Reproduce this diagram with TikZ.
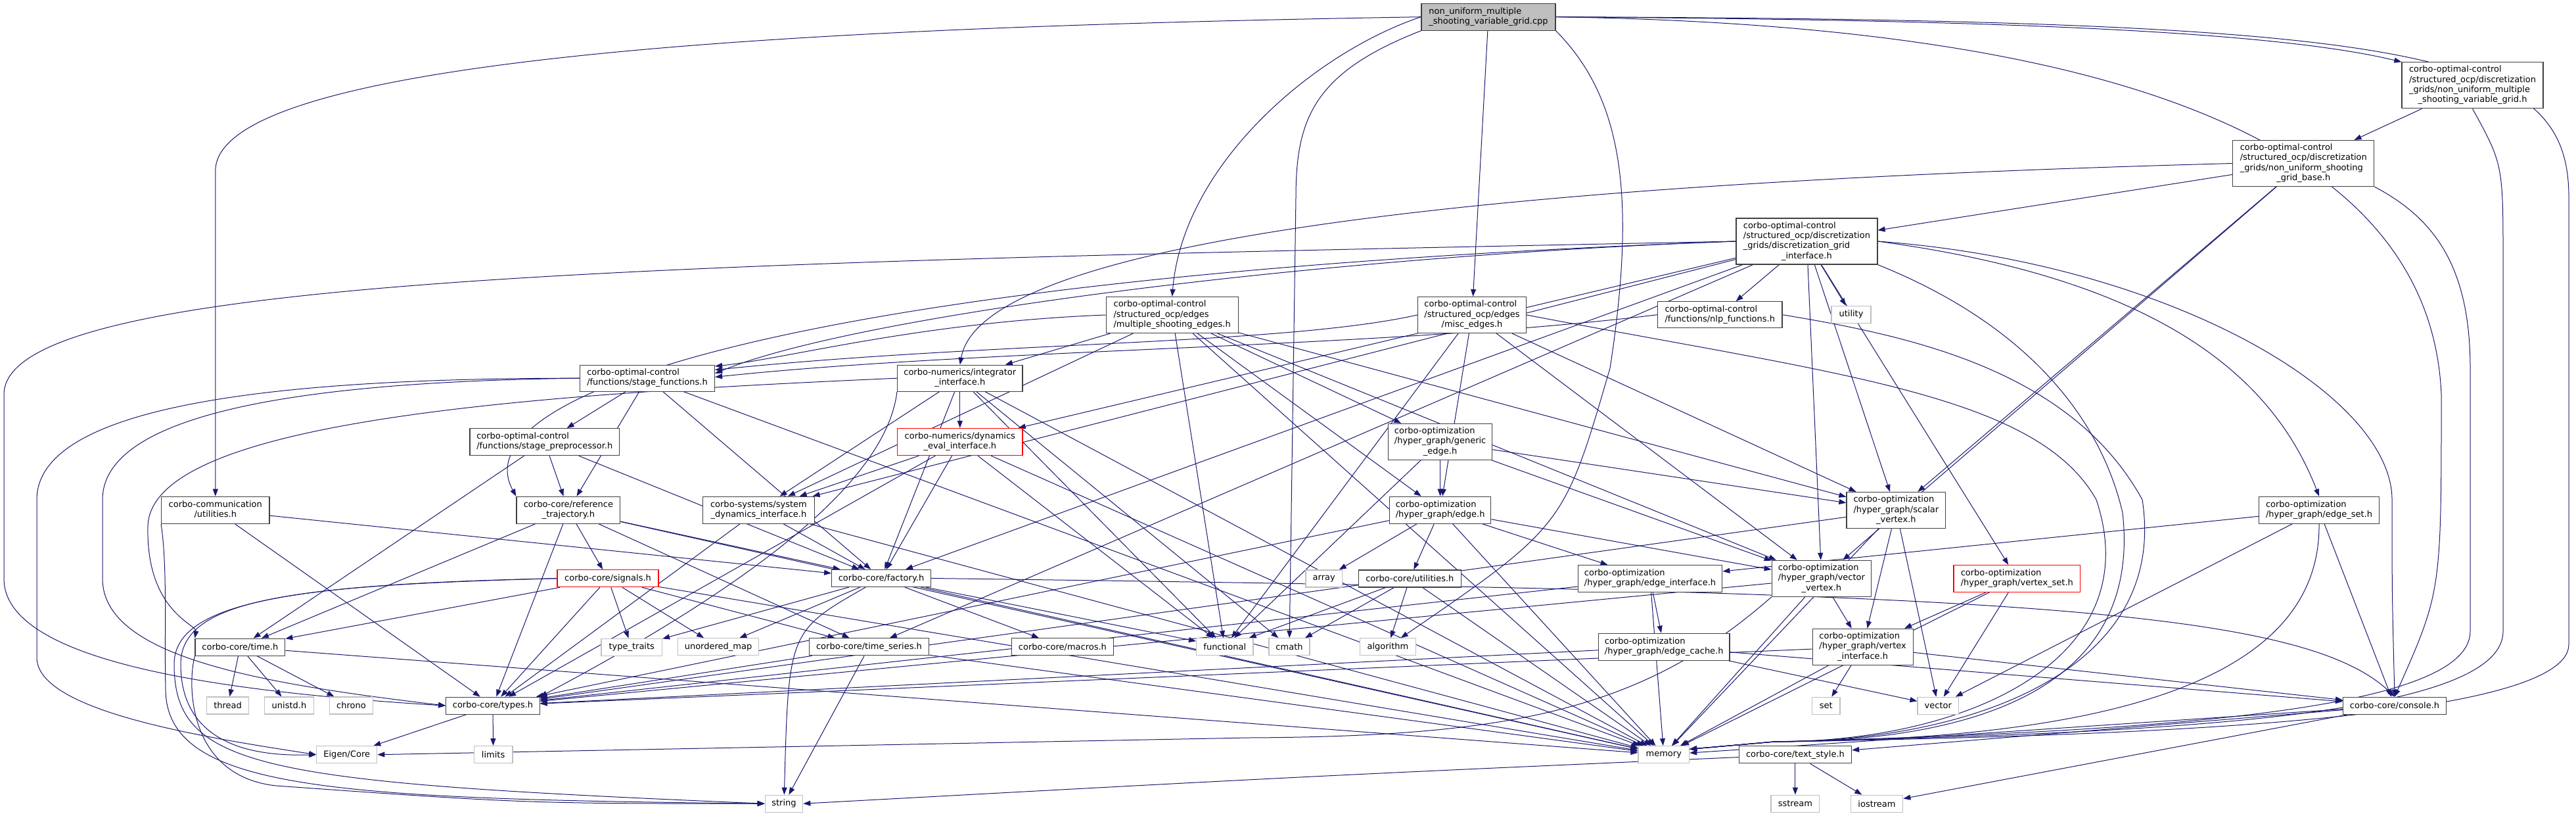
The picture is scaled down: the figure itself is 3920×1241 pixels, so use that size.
\documentclass[tikz,border=0pt]{standalone}
\usepackage{fontspec}
\setmainfont{DejaVu Sans}
\usetikzlibrary{arrows.meta}
\definecolor{ec}{HTML}{191970}
\definecolor{lg}{HTML}{BFBFBF}
\definecolor{bd}{HTML}{404040}
\newcommand\fs{\fontsize{13}{15.3}\selectfont}
\newcommand\ml[2]{\begin{tabular}{@{}l@{}}#1\\\multicolumn{1}{@{}c@{}}{#2}\end{tabular}}
\pgfdeclarelayer{back}
\pgfdeclarelayer{bg}
\pgfsetlayers{back,bg,main}
\tikzset{
  nb/.style={draw=bd, fill=white, line width=1.2pt, inner sep=0pt, font=\fs, text=black},
  lf/.style={draw=lg, fill=white, line width=1.2pt, inner sep=0pt, font=\fs, text=black},
  rt/.style={nb, fill=lg},
  rd/.style={nb, draw=red},
  ed/.style={draw=ec, line width=1pt, -{Triangle[length=11pt,width=8pt]}},
}
\begin{document}
\begin{tikzpicture}[x=1pt,y=-1pt]
\begin{pgfonlayer}{back}
\fill[white] (0,0) rectangle (3920,1241);
\end{pgfonlayer}
\useasboundingbox (0,0) rectangle (3920,1241);
% nodes
\node[rt, minimum width=204pt, minimum height=41pt] (root) at (2265,25.7) {\ml{non\_uniform\_multiple}{\_shooting\_variable\_grid.cpp}};
\node[nb, minimum width=215pt, minimum height=70pt] (nums) at (3762.5,129.8) {\ml{corbo-optimal-control\\/structured\_ocp/discretization\\\_grids/non\_uniform\_multiple}{\_shooting\_variable\_grid.h}};
\node[nb, minimum width=215pt, minimum height=70pt] (gbase) at (3505.3,248.5) {\ml{corbo-optimal-control\\/structured\_ocp/discretization\\\_grids/non\_uniform\_shooting}{\_grid\_base.h}};
\node[nb, minimum width=215pt, minimum height=70pt] (dgi) at (2749.4,367) {\ml{corbo-optimal-control\\/structured\_ocp/discretization\\\_grids/discretization\_grid}{\_interface.h}};
\node[nb, minimum width=201pt, minimum height=55pt] (mse) at (1783.7,479) {\ml{corbo-optimal-control\\/structured\_ocp/edges}{/multiple\_shooting\_edges.h}};
\node[nb, minimum width=165pt, minimum height=55pt] (misc) at (2240,479) {\ml{corbo-optimal-control\\/structured\_ocp/edges}{/misc\_edges.h}};
\node[nb, minimum width=189.5pt, minimum height=40pt] (nlp) at (2617.25,478.7) {\ml{corbo-optimal-control}{/functions/nlp\_functions.h}};
\node[lf, minimum width=60pt, minimum height=26pt] (utility) at (2817,478.3) {utility};
\node[nb, minimum width=205pt, minimum height=40pt] (sfun) at (985,575.2) {\ml{corbo-optimal-control}{/functions/stage\_functions.h}};
\node[nb, minimum width=190.4pt, minimum height=40pt] (integ) at (1460.8,575.2) {\ml{corbo-numerics/integrator}{\_interface.h}};
\node[nb, minimum width=227.5pt, minimum height=41pt] (sprep) at (828.75,672.2) {\ml{corbo-optimal-control}{/functions/stage\_preprocessor.h}};
\node[rd, minimum width=190.4pt, minimum height=41pt] (dyn) at (1460.8,672) {\ml{corbo-numerics/dynamics}{\_eval\_interface.h}};
\node[nb, minimum width=158pt, minimum height=55pt] (gedge) at (2191.6,671.8) {\ml{corbo-optimization\\/hyper\_graph/generic}{\_edge.h}};
\node[nb, minimum width=164.4pt, minimum height=41pt] (comm) at (327.8,775.8) {\ml{corbo-communication}{/utilities.h}};
\node[nb, minimum width=157.7pt, minimum height=41pt] (reftraj) at (864.9,775.8) {\ml{corbo-core/reference}{\_trajectory.h}};
\node[nb, minimum width=170pt, minimum height=41pt] (sysdyn) at (1154.4,775.8) {\ml{corbo-systems/system}{\_dynamics\_interface.h}};
\node[nb, minimum width=154.4pt, minimum height=41pt] (edge) at (2191.6,775.8) {\ml{corbo-optimization}{/hyper\_graph/edge.h}};
\node[nb, minimum width=150.6pt, minimum height=55pt] (scalar) at (2885.3,776) {\ml{corbo-optimization\\/hyper\_graph/scalar}{\_vertex.h}};
\node[nb, minimum width=183pt, minimum height=41pt] (eset) at (3529,775.8) {\ml{corbo-optimization}{/hyper\_graph/edge\_set.h}};
\node[rd, minimum width=154pt, minimum height=26pt] (signals) at (925,879.7) {corbo-core/signals.h};
\node[nb, minimum width=150.6pt, minimum height=26pt] (factory) at (1341,879.5) {corbo-core/factory.h};
\node[lf, minimum width=55.6pt, minimum height=26pt] (array) at (2014.7,880) {array};
\node[nb, minimum width=155.6pt, minimum height=26pt] (cutil) at (2145.3,880) {corbo-core/utilities.h};
\node[nb, minimum width=219.4pt, minimum height=41pt] (eiface) at (2511,880.2) {\ml{corbo-optimization}{/hyper\_graph/edge\_interface.h}};
\node[nb, minimum width=151.25pt, minimum height=55pt] (vvertex) at (2771.9,879.8) {\ml{corbo-optimization\\/hyper\_graph/vector}{\_vertex.h}};
\node[rd, minimum width=192.5pt, minimum height=41pt] (vset) at (3069.3,880) {\ml{corbo-optimization}{/hyper\_graph/vertex\_set.h}};
\node[nb, minimum width=136.75pt, minimum height=26pt] (time) at (365.4,984.2) {corbo-core/time.h};
\node[lf, minimum width=92.5pt, minimum height=26pt] (ttraits) at (961.25,984.2) {type\_traits};
\node[lf, minimum width=123.75pt, minimum height=26pt] (umap) at (1093,983.8) {unordered\_map};
\node[nb, minimum width=182.5pt, minimum height=26pt] (tseries) at (1322.5,983.8) {corbo-core/time\_series.h};
\node[nb, minimum width=155pt, minimum height=26pt] (macros) at (1616.9,983.8) {corbo-core/macros.h};
\node[lf, minimum width=86.25pt, minimum height=26pt] (functional) at (1863.75,983.8) {functional};
\node[lf, minimum width=62pt, minimum height=26pt] (cmath) at (1962,983.8) {cmath};
\node[lf, minimum width=85pt, minimum height=26pt] (algorithm) at (2111.9,983.8) {algorithm};
\node[nb, minimum width=199.4pt, minimum height=41pt] (ecache) at (2532.2,983.8) {\ml{corbo-optimization}{/hyper\_graph/edge\_cache.h}};
\node[nb, minimum width=153pt, minimum height=55pt] (viface) at (2834.6,983.8) {\ml{corbo-optimization\\/hyper\_graph/vertex}{\_interface.h}};
\node[lf, minimum width=64.4pt, minimum height=26pt] (thread) at (346.6,1073) {thread};
\node[lf, minimum width=75pt, minimum height=26pt] (unistd) at (440,1073) {unistd.h};
\node[lf, minimum width=66pt, minimum height=26pt] (chrono) at (534.4,1073) {chrono};
\node[nb, minimum width=142.5pt, minimum height=26pt] (types) at (750,1073.2) {corbo-core/types.h};
\node[lf, minimum width=42.5pt, minimum height=26pt] (set) at (2778.75,1073.2) {set};
\node[lf, minimum width=62.6pt, minimum height=26pt] (vector) at (2949.3,1073.2) {vector};
\node[nb, minimum width=157pt, minimum height=26pt] (console) at (3644,1073.2) {corbo-core/console.h};
\node[lf, minimum width=92pt, minimum height=26pt] (eigen) at (527.8,1147.7) {Eigen/Core};
\node[lf, minimum width=58.75pt, minimum height=26pt] (limits) at (750.6,1147.7) {limits};
\node[lf, minimum width=77.5pt, minimum height=26pt] (memory) at (2531.8,1147.7) {memory};
\node[nb, minimum width=171.25pt, minimum height=26pt] (textstyle) at (2731.9,1147.8) {corbo-core/text\_style.h};
\node[lf, minimum width=57.5pt, minimum height=26pt] (string) at (1193,1222.2) {string};
\node[lf, minimum width=73.75pt, minimum height=26pt] (sstream) at (2731.9,1222.2) {sstream};
\node[lf, minimum width=79.4pt, minimum height=26pt] (iostream) at (2856,1222.2) {iostream};
% edges
\begin{pgfonlayer}{bg}
% root
\draw[ed] (root.east) .. controls (3000,30) and (3450,45) .. (nums.north west);
\draw[ed] (root.east) .. controls (3300,40) and (3700,250) .. (3715,600) .. controls (3715,900) .. (console.north);
\draw[ed] (root.east) .. controls (3700,30) and (3909,80) .. (3909,300) -- (3909,980) .. controls (3909,1100) and (3200,1120) .. (2700,1128) -- (memory.12);
\draw[ed] (root.west) .. controls (1300,40) and (327.8,80) .. (327.8,260) -- (comm.north);
\draw[ed] (root.west) .. controls (2000,80) and (1800,250) .. (mse.north);
\draw[ed] (root) -- (misc);
\draw[ed] (root.south west) .. controls (2000,110) and (1972,180) .. (1972,300) -- (cmath);
\draw[ed] (root.south east) .. controls (2470,150) and (2490,300) .. (2450,560) .. controls (2380,800) .. (algorithm);
% nums, gbase
\draw[ed] (nums) -- (gbase);
\draw[ed] (nums.south) .. controls (3809,250) .. (3809,400) -- (3809,960) .. controls (3809,1090) and (3300,1115) .. (2700,1128) -- (memory.12);
\draw[ed] (gbase) -- (dgi);
\draw[ed] (gbase.west) .. controls (2600,270) and (1500,330) .. (integ.north);
\draw[ed] (gbase) -- (scalar);
\draw[ed] (gbase) -- (vvertex);
\draw[ed] (gbase.south east) .. controls (3700,330) and (3759,400) .. (3759,560) -- (3759,960) .. controls (3759,1080) and (3300,1112) .. (2700,1128) -- (memory.12);
% dgi
\draw[ed] (dgi.west) .. controls (2000,390) and (1300,480) .. (sfun.4);
\draw[ed] (dgi) -- (nlp);
\draw[ed] (dgi) -- (utility);
\draw[ed] (dgi) -- (vvertex);
\draw[ed] (dgi) -- (scalar);
\draw[ed] (dgi) -- (vset);
\draw[ed] (dgi.east) .. controls (3250,420) and (3450,550) .. (eset.north);
\draw[ed] (dgi.east) .. controls (3300,400) and (3640,600) .. (3640,760) .. controls (3640,900) .. (console.north);
\draw[ed] (dgi.south east) .. controls (3100,500) and (3200,650) .. (3230,780) .. controls (3260,1050) and (3000,1128) .. (2700,1128) -- (memory.12);
\draw[ed] (dgi) -- (factory);
\draw[ed] (dgi) -- (tseries);
\draw[ed] (dgi.west) .. controls (1200,420) and (700,600) .. (reftraj.north west);
\draw[ed] (dgi) -- (sysdyn);
\draw[ed] (dgi) -- (dyn);
\draw[ed] (dgi.west) .. controls (1000,400) and (6,420) .. (6,600) -- (6,880) .. controls (6,1000) and (300,1050) .. (types.west);
% mse
\draw[ed] (mse.west) .. controls (1400,490) and (1200,545) .. (sfun.10);
\draw[ed] (mse) -- (integ);
\draw[ed] (mse) -- (sysdyn);
\draw[ed] (mse) -- (edge);
\draw[ed] (mse) -- (gedge);
\draw[ed] (mse) -- (functional);
\draw[ed] (mse) -- (memory);
\draw[ed] (mse) -- (scalar);
\draw[ed] (mse) -- (vvertex);
% misc
\draw[ed] (misc.west) .. controls (1950,525) and (1500,520) .. (sfun.7);
\draw[ed] (misc) -- (functional);
\draw[ed] (misc) -- (edge);
\draw[ed] (misc) -- (scalar);
\draw[ed] (misc) -- (vvertex);
\draw[ed] (misc.east) .. controls (2800,570) and (3100,600) .. (3190,760) .. controls (3270,1000) and (3000,1128) .. (2700,1128) -- (memory.12);
% nlp
\draw[ed] (nlp.west) .. controls (2100,530) and (1500,530) .. (sfun.1);
\draw[ed] (nlp.east) .. controls (2900,510) and (3150,560) .. (3260,760) .. controls (3300,1020) and (3000,1128) .. (2700,1128) -- (memory.12);
% sfun
\draw[ed] (sfun) -- (sprep);
\draw[ed] (sfun) -- (reftraj);
\draw[ed] (sfun) -- (factory);
\draw[ed] (sfun.west) .. controls (500,580) and (156,620) .. (156,760) -- (156,880) .. controls (156,1000) and (400,1040) .. (types.west);
\draw[ed] (sfun.west) .. controls (400,575) and (56,620) .. (56,760) -- (56,1000) .. controls (56,1080) and (300,1120) .. (eigen.west);
\draw[ed] (sfun) -- (memory);
% integ
\draw[ed] (integ) -- (dyn);
\draw[ed] (integ.west) .. controls (800,600) and (230,640) .. (225,800) .. controls (222,930) and (300,950) .. (time.north west);
\draw[ed] (integ) -- (sysdyn);
\draw[ed] (integ) -- (factory);
\draw[ed] (integ.south west) .. controls (1350,720) and (1180,870) .. (types.north east);
\draw[ed] (integ) -- (functional);
\draw[ed] (integ) -- (cmath);
\draw[ed] (integ) -- (memory);
% sprep
\draw[ed] (sprep) -- (reftraj);
\draw[ed] (sprep) -- (factory);
\draw[ed] (sprep) -- (time);
% dyn
\draw[ed] (dyn) -- (sysdyn);
\draw[ed] (dyn) -- (factory);
\draw[ed] (dyn) -- (types);
\draw[ed] (dyn) -- (functional);
\draw[ed] (dyn) -- (memory);
% sysdyn
\draw[ed] (sysdyn) -- (factory);
\draw[ed] (sysdyn) -- (types);
\draw[ed] (sysdyn) -- (memory);
% comm
\draw[ed] (comm) -- (factory);
\draw[ed] (comm.south west) .. controls (255,860) and (250,960) .. (252,1050) .. controls (255,1200) and (500,1215) .. (string.west);
\draw[ed] (comm) -- (types);
% reftraj
\draw[ed] (reftraj) -- (signals);
\draw[ed] (reftraj) -- (time);
\draw[ed] (reftraj) -- (types);
\draw[ed] (reftraj) -- (factory);
\draw[ed] (reftraj) -- (tseries);
\draw[ed] (reftraj) -- (memory);
% signals
\draw[ed] (signals.west) .. controls (450,890) and (275,910) .. (275,1010) .. controls (275,1140) and (400,1150) .. (eigen.west);
\draw[ed] (signals) -- (time);
\draw[ed] (signals) -- (types);
\draw[ed] (signals) -- (ttraits);
\draw[ed] (signals) -- (umap);
\draw[ed] (signals) -- (tseries);
\draw[ed] (signals) -- (memory);
\draw[ed] (signals.west) .. controls (450,888) and (265,915) .. (265,1010) .. controls (265,1170) and (400,1190) .. (string.west);
% factory
\draw[ed] (factory) -- (ttraits);
\draw[ed] (factory) -- (umap);
\draw[ed] (factory) .. controls (1200,960) .. (string);
\draw[ed] (factory) -- (macros);
\draw[ed] (factory) -- (functional);
\draw[ed] (factory) -- (memory);
\draw[ed] (factory.east) .. controls (3000,900) and (3500,920) .. (console.north);
% tseries
\draw[ed] (tseries) -- (types);
\draw[ed] (tseries) -- (string);
\draw[ed] (tseries) -- (memory);
% time
\draw[ed] (time) -- (thread);
\draw[ed] (time) -- (unistd);
\draw[ed] (time) -- (chrono);
\draw[ed] (time.south west) .. controls (285,1040) and (285,1180) .. (420,1195) .. controls (800,1222) .. (string.west);
\draw[ed] (time) -- (memory);
% types
\draw[ed] (types) -- (eigen);
\draw[ed] (types) -- (limits);
% gedge
\draw[ed] (gedge) -- (edge);
\draw[ed] (gedge) -- (scalar);
\draw[ed] (gedge) -- (functional);
\draw[ed] (gedge) -- (vvertex);
% edge
\draw[ed] (edge) -- (array);
\draw[ed] (edge) -- (cutil);
\draw[ed] (edge) -- (memory);
\draw[ed] (edge) -- (eiface);
\draw[ed] (edge) -- (vvertex);
\draw[ed] (edge) -- (types);
% cutil
\draw[ed] (cutil) -- (cmath);
\draw[ed] (cutil) -- (algorithm);
\draw[ed] (cutil) -- (functional);
\draw[ed] (cutil) -- (memory);
% scalar
\draw[ed] (scalar) -- (viface);
\draw[ed] (scalar) -- (vector);
\draw[ed] (scalar) -- (memory);
\draw[ed] (scalar) -- (types);
% vvertex
\draw[ed] (vvertex) -- (viface);
\draw[ed] (vvertex) -- (memory);
\draw[ed] (vvertex) -- (types);
\draw[ed] (vvertex.south west) .. controls (2500,1080) and (2300,1120) .. (1900,1122) -- (eigen.east);
% eiface, ecache, viface
\draw[ed] (eiface) -- (ecache);
\draw[ed] (eiface) -- (memory);
\draw[ed] (eiface) -- (types);
\draw[ed] (ecache) -- (types);
\draw[ed] (ecache) -- (vector);
\draw[ed] (ecache) -- (console);
\draw[ed] (viface) -- (set);
\draw[ed] (viface) -- (memory);
\draw[ed] (viface) -- (types);
\draw[ed] (viface) -- (console);
% vset, eset
\draw[ed] (vset) -- (viface);
\draw[ed] (vset) -- (vector);
\draw[ed] (vset) -- (memory);
\draw[ed] (eset) -- (eiface);
\draw[ed] (eset) -- (vector);
\draw[ed] (eset) -- (console);
\draw[ed] (eset.south) .. controls (3531,1000) and (3300,1125) .. (2700,1128) -- (memory.12);
% console, textstyle
\draw[ed] (console) -- (textstyle);
\draw[ed] (console) -- (iostream);
\draw[ed] (console) -- (memory);
\draw[ed] (textstyle) -- (sstream);
\draw[ed] (textstyle) -- (iostream);
\draw[ed] (textstyle) .. controls (2000,1180) .. (string.east);
\end{pgfonlayer}
\end{tikzpicture}
\end{document}
